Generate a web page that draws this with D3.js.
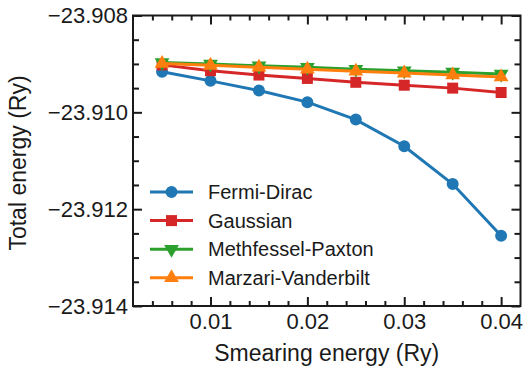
<!DOCTYPE html>
<html>
<head>
<meta charset="utf-8">
<script src="https://cdn.jsdelivr.net/npm/d3@7"></script>
<style>
  html, body { margin: 0; padding: 0; background: #fff; }
  svg { display: block; font-family: "Liberation Sans", Arial, sans-serif; }
</style>
</head>
<body>
<div id="chart"></div>
<script>
// smearing energies (Ry)
const smearing = [0.005, 0.01, 0.015, 0.02, 0.025, 0.03, 0.035, 0.04]

// total energy per scheme (Ry)
const fermiDirac = [-23.90916, -23.90935, -23.90955, -23.90979, -23.91015, -23.91070, -23.91148, -23.91255]
const gaussian = [-23.90902, -23.90914, -23.90923, -23.90930, -23.90938, -23.90944, -23.90950, -23.90959]
const methfesselPaxton = [-23.90897, -23.90900, -23.90904, -23.90907, -23.90911, -23.90914, -23.90917, -23.90921]
const marzariVanderbilt = [-23.90899, -23.90903, -23.90907, -23.90911, -23.90915, -23.90919, -23.90923, -23.90927]

const seriesNames = ['Fermi-Dirac', 'Gaussian', 'Methfessel-Paxton', 'Marzari-Vanderbilt']
const seriesValues = [fermiDirac, gaussian, methfesselPaxton, marzariVanderbilt]

const xTicks = [0.01, 0.02, 0.03, 0.04]
const xMinorTicks = [0.004, 0.006, 0.008, 0.012, 0.014, 0.016, 0.018, 0.022, 0.024, 0.026, 0.028, 0.032, 0.034, 0.036, 0.038]
const yTicks = [-23.908, -23.910, -23.912, -23.914]
const yMinorTicks = [-23.9085, -23.909, -23.9095, -23.9105, -23.911, -23.9115, -23.9125, -23.913, -23.9135]

const colors = ['#1f77b4', '#d62728', '#2ca02c', '#ff7f0e']
const symbols = [
  { type: d3.symbolCircle, size: 113, rot: 0 },
  { type: d3.symbolSquare, size: 121, rot: 0 },
  { type: d3.symbolTriangle, size: 95, rot: 180 },
  { type: d3.symbolTriangle, size: 95, rot: 0 }
]

const width = 524
const height = 368
const margin = { top: 15.5, right: 3.5, bottom: 62, left: 133 }
const inner = { w: width - margin.left - margin.right, h: height - margin.top - margin.bottom }
const ink = '#1a1a1a'

const svg = d3.select('#chart').append('svg')
  .attr('width', width).attr('height', height)

const g = svg.append('g').attr('transform', `translate(${margin.left},${margin.top})`)

const x = d3.scaleLinear().domain([0.002, 0.042]).range([0, inner.w])
const y = d3.scaleLinear().domain([-23.914, -23.908]).range([inner.h, 0])

// Axes: ticks point inward on all four sides
function styleAxis(sel) {
  sel.select('.domain').remove()
  sel.selectAll('line').attr('stroke', ink).attr('stroke-width', 2)
  sel.selectAll('text').attr('fill', ink).style('font-size', '22px')
}

g.append('g').attr('transform', `translate(0,${inner.h})`)
  .call(d3.axisBottom(x).tickValues(xTicks).tickSizeInner(-9).tickSizeOuter(0).tickPadding(7).tickFormat(d3.format('.2f')))
  .call(styleAxis)
g.append('g').attr('transform', `translate(0,${inner.h})`)
  .call(d3.axisBottom(x).tickValues(xMinorTicks).tickSizeInner(-5).tickSizeOuter(0).tickFormat(''))
  .call(styleAxis)
g.append('g')
  .call(d3.axisTop(x).tickValues(xTicks).tickSizeInner(-9).tickSizeOuter(0).tickFormat(''))
  .call(styleAxis)
g.append('g')
  .call(d3.axisTop(x).tickValues(xMinorTicks).tickSizeInner(-5).tickSizeOuter(0).tickFormat(''))
  .call(styleAxis)

g.append('g')
  .call(d3.axisLeft(y).tickValues(yTicks).tickSizeInner(-9).tickSizeOuter(0).tickPadding(5).tickFormat(d3.format('.3f')))
  .call(styleAxis)
g.append('g')
  .call(d3.axisLeft(y).tickValues(yMinorTicks).tickSizeInner(-6).tickSizeOuter(0).tickFormat(''))
  .call(styleAxis)
g.append('g').attr('transform', `translate(${inner.w},0)`)
  .call(d3.axisRight(y).tickValues(yTicks).tickSizeInner(-9).tickSizeOuter(0).tickFormat(''))
  .call(styleAxis)
g.append('g').attr('transform', `translate(${inner.w},0)`)
  .call(d3.axisRight(y).tickValues(yMinorTicks).tickSizeInner(-6).tickSizeOuter(0).tickFormat(''))
  .call(styleAxis)

// Series
const line = d3.line().x(d => x(d[0])).y(d => y(d[1]))
seriesValues.forEach((vals, i) => {
  const pts = smearing.map((s, j) => [s, vals[j]])
  g.append('path').datum(pts)
    .attr('d', line).attr('fill', 'none')
    .attr('stroke', colors[i]).attr('stroke-width', 3)
  const sym = d3.symbol().type(symbols[i].type).size(symbols[i].size)
  g.selectAll(null).data(pts).enter().append('path')
    .attr('d', sym)
    .attr('transform', d => `translate(${x(d[0])},${y(d[1])}) rotate(${symbols[i].rot})`)
    .attr('fill', colors[i])
})

// Frame
g.append('rect').attr('x', 0).attr('y', 0).attr('width', inner.w).attr('height', inner.h)
  .attr('fill', 'none').attr('stroke', ink).attr('stroke-width', 2)

// Axis titles
svg.append('text')
  .attr('x', margin.left + inner.w / 2).attr('y', 361)
  .attr('text-anchor', 'middle').attr('fill', ink).style('font-size', '23px')
  .text('Smearing energy (Ry)')
svg.append('text')
  .attr('transform', 'translate(26,163) rotate(-90)')
  .attr('text-anchor', 'middle').attr('fill', ink).style('font-size', '23px')
  .text('Total energy (Ry)')

// Legend
const legend = svg.append('g').attr('transform', 'translate(150,192)')
seriesNames.forEach((name, i) => {
  const lg = legend.append('g').attr('transform', `translate(0,${i * 28.6})`)
  lg.append('line').attr('x1', 0).attr('x2', 43).attr('y1', 0).attr('y2', 0)
    .attr('stroke', colors[i]).attr('stroke-width', 3)
  lg.append('path')
    .attr('d', d3.symbol().type(symbols[i].type).size(symbols[i].size))
    .attr('transform', `translate(21.5,0) rotate(${symbols[i].rot})`)
    .attr('fill', colors[i])
  lg.append('text').attr('x', 58).attr('y', 0).attr('dy', '0.35em')
    .attr('fill', ink).style('font-size', '20px').text(name)
})
</script>
</body>
</html>
